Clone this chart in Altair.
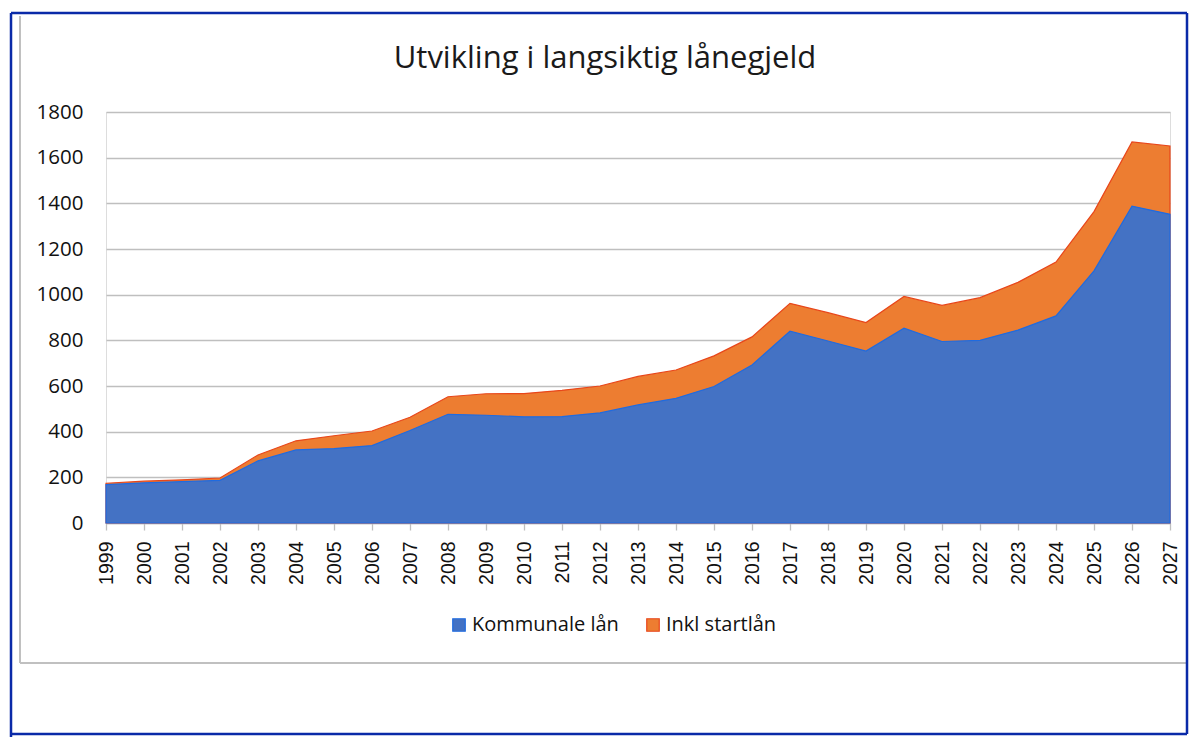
import altair as alt
import pandas as pd

years = list(range(1999, 2028))
kommunale = [168, 176, 181, 187, 272, 320, 326, 339, 405, 476, 472, 465, 466, 482,
             517, 546, 598, 692, 840, 797, 753, 853, 795, 800, 845, 907, 1104, 1388, 1352]
inkl = [174, 183, 189, 197, 298, 360, 382, 403, 463, 553, 566, 567, 581, 600,
        642, 670, 732, 815, 962, 921, 878, 992, 953, 987, 1054, 1143, 1364, 1669, 1651]
series_names = ["Kommunale lån", "Inkl startlån"]
fill_colors = ["#4472C4", "#ED7D31"]
stroke_colors = ["#1F6BE0", "#E8461A"]
y_ticks = [0, 200, 400, 600, 800, 1000, 1200, 1400, 1600, 1800]
title_text = "Utvikling i langsiktig lånegjeld"

rows = []
for yr, k, t in zip(years, kommunale, inkl):
    rows.append({"year": yr, "series": series_names[0], "value": k})
    rows.append({"year": yr, "series": series_names[1], "value": t})
df = pd.DataFrame(rows)

W, H = 1064, 411

legend = alt.Legend(
    title=None, orient="none", legendX=343, legendY=503, direction="horizontal",
    symbolType="square", symbolSize=156, symbolStrokeWidth=1.2,
    labelFont="Open Sans", labelFontSize=20, labelColor="#111111",
    labelOffset=3, columnPadding=24, symbolOpacity=1,
)

x_enc = alt.X(
    "year:Q",
    scale=alt.Scale(domain=[1999, 2027], nice=False, zero=False),
    axis=alt.Axis(
        values=years, format="d", labelAngle=270, title=None, grid=False,
        domainColor="#BFBFBF", domainWidth=1.3, tickColor="#BFBFBF", tickSize=7,
        tickWidth=1.3, labelFont="Liberation Sans", labelFontSize=19.5,
        labelColor="#111111", labelPadding=11, labelOverlap=False,
    ),
)
y_enc = alt.Y(
    "value:Q", stack=None,
    scale=alt.Scale(domain=[0, 1800], nice=False),
    axis=alt.Axis(
        values=y_ticks, format="d", title=None, grid=True, gridColor="#BFBFBF",
        gridWidth=1.3, domain=False, ticks=False, labelFont="Open Sans",
        labelFontSize=20.5, labelColor="#111111", labelPadding=23,
    ),
)
color_enc = alt.Color("series:N", scale=alt.Scale(domain=series_names, range=fill_colors), legend=legend)
stroke_enc = alt.Stroke("series:N", scale=alt.Scale(domain=series_names, range=stroke_colors), legend=legend)

base = alt.Chart(df).encode(x=x_enc, y=y_enc, color=color_enc, stroke=stroke_enc)

area_total = base.transform_filter(alt.datum.series == series_names[1]).mark_area(
    opacity=1, strokeWidth=1.2)
area_komm = base.transform_filter(alt.datum.series == series_names[0]).mark_area(
    opacity=1, strokeWidth=1.2)

one = pd.DataFrame({"a": [0]})

title_mark = alt.Chart(pd.DataFrame({"t": [title_text]})).mark_text(
    font="Open Sans", fontSize=31, color="#1a1a1a", align="center",
    baseline="alphabetic",
).encode(text="t:N", x=alt.value(499), y=alt.value(-44))


def rule(x1, x2, y1, y2, color, width):
    return alt.Chart(one).mark_rule(color=color, strokeWidth=width).encode(
        x=alt.value(x1), x2=alt.value(x2), y=alt.value(y1), y2=alt.value(y2))


frame_blue = "#0A2AA8"
frame_grey = "#C0C0C0"
frames = [
    rule(-86, -86, -96, 551, frame_grey, 2),
    rule(-86, 1081, 551, 551, frame_grey, 2),
    rule(-95, -95, -99, 634, frame_blue, 2.5),
    rule(-95, 1081, -99, -99, frame_blue, 2.5),
    rule(1081, 1081, -99, 622, frame_blue, 2.5),
    rule(-95, 1081, 622, 622, frame_blue, 2.5),
]

chart = alt.layer(area_total, area_komm, title_mark, *frames).properties(
    width=W, height=H,
    autosize=alt.AutoSizeParams(type="none"),
    padding={"left": 98, "top": 104, "right": 22, "bottom": 214},
).configure_view(stroke=None).configure(background="white")

chart.save("out.html", embed_options={"renderer": "svg", "actions": False})
